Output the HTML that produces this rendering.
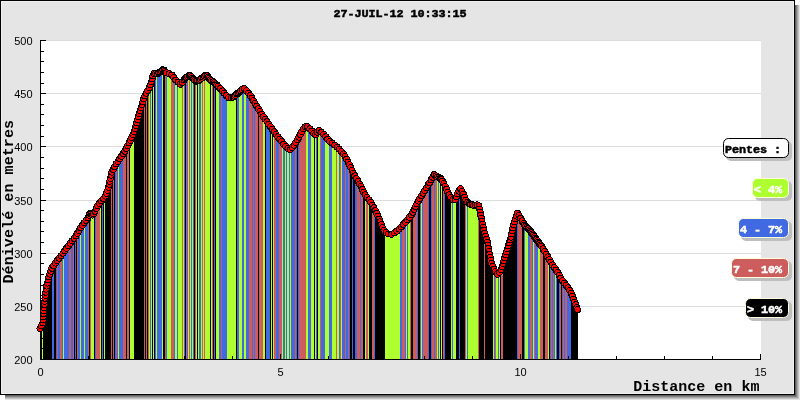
<!DOCTYPE html>
<html><head><meta charset="utf-8"><title>27-JUIL-12 10:33:15</title>
<style>
html,body{margin:0;padding:0;background:#fff;}
svg{display:block;}
.m{font-family:"Liberation Mono","DejaVu Sans Mono",monospace;font-weight:bold;}
.s{font-family:"Liberation Sans","DejaVu Sans",sans-serif;}
</style></head><body>
<svg width="800" height="400" viewBox="0 0 800 400">
<defs>
<clipPath id="cp"><polygon points="40,359 40.00,328.50 43.10,322.50 43.70,310.00 45.00,297.50 46.30,288.00 48.75,277.50 51.90,268.00 56.90,261.00 61.25,255.60 66.25,248.75 71.00,242.20 76.25,235.60 80.60,228.00 85.60,220.60 88.30,217.60 89.60,213.80 91.00,213.40 92.20,215.20 93.75,213.75 97.50,206.00 101.90,200.00 105.00,197.00 107.90,190.00 109.90,181.00 111.50,173.00 115.00,165.60 119.80,158.75 124.00,152.70 127.80,145.60 131.60,138.00 134.75,130.00 137.25,121.00 139.10,113.75 141.30,107.00 144.30,97.50 146.70,92.00 149.25,87.75 151.80,81.00 153.50,73.50 157.60,73.90 163.25,69.40 166.25,72.75 171.50,74.60 175.25,79.50 180.50,84.50 185.00,78.75 189.50,74.80 192.50,78.00 195.50,81.50 199.25,80.25 201.00,78.75 206.30,74.80 210.00,79.40 215.60,83.75 220.60,88.75 225.00,94.40 229.40,98.30 233.75,97.00 238.00,93.00 243.80,88.00 248.00,92.50 252.50,98.75 256.25,105.50 259.40,110.50 262.60,115.60 267.80,123.00 273.30,130.60 278.80,138.00 284.40,145.00 289.50,150.30 294.00,145.50 298.75,137.50 302.50,130.00 306.25,125.60 310.60,129.40 315.30,135.40 318.75,130.00 323.75,134.40 329.00,141.00 335.50,145.60 342.60,152.50 347.00,160.00 350.80,167.50 353.80,174.40 358.10,181.25 361.50,187.50 364.40,193.75 370.00,201.25 375.60,211.00 378.75,218.00 381.25,224.50 383.50,230.00 387.00,233.75 391.25,234.40 396.00,232.00 400.60,227.80 406.50,221.00 411.80,214.20 415.30,207.00 419.20,199.40 424.00,191.80 429.00,183.50 432.50,177.50 434.60,174.00 436.80,176.80 440.50,178.00 444.40,184.40 448.00,192.50 451.25,198.75 455.00,200.50 458.00,192.50 460.60,188.75 463.75,195.00 466.25,201.25 470.00,204.00 473.75,205.50 478.75,204.60 480.00,211.00 482.00,221.25 483.75,230.00 486.25,237.50 487.80,243.75 489.40,253.75 491.25,262.50 494.40,270.00 497.50,274.40 500.60,271.25 503.00,263.75 505.60,255.00 508.20,246.00 511.00,237.00 513.00,227.50 515.00,220.00 517.50,213.00 521.25,219.40 525.00,225.60 530.00,230.60 535.00,237.50 537.50,241.00 542.00,247.00 547.50,256.25 552.50,265.00 557.50,272.00 560.00,277.00 563.00,281.25 568.00,287.50 571.25,293.00 573.75,300.00 577.50,309.50 578,309.50 578,359"/></clipPath>
</defs>
<g shape-rendering="crispEdges">
<rect x="795" y="5" width="1" height="391" fill="#606060"/><rect x="5" y="395" width="791" height="1" fill="#606060"/>
<rect x="796" y="5" width="1" height="392" fill="#828282"/><rect x="5" y="396" width="792" height="1" fill="#828282"/>
<rect x="797" y="5" width="1" height="393" fill="#a3a3a3"/><rect x="5" y="397" width="793" height="1" fill="#a3a3a3"/>
<rect x="798" y="5" width="1" height="394" fill="#c4c4c4"/><rect x="5" y="398" width="794" height="1" fill="#c4c4c4"/>
<rect x="799" y="5" width="1" height="395" fill="#e2e2e2"/><rect x="5" y="399" width="795" height="1" fill="#e2e2e2"/>
<rect x="0" y="0" width="795" height="395" fill="#000"/>
<rect x="1" y="1" width="793" height="393" fill="#f0f0f0"/>
<rect x="2" y="2" width="791" height="391" fill="#e5e5e5"/>
<rect x="40" y="40" width="721" height="320" fill="#fff"/>
<rect x="41" y="40" width="720" height="1" fill="#dcdcdc"/>
<rect x="41" y="93" width="720" height="1" fill="#dcdcdc"/>
<rect x="41" y="146" width="720" height="1" fill="#dcdcdc"/>
<rect x="41" y="200" width="720" height="1" fill="#dcdcdc"/>
<rect x="41" y="253" width="720" height="1" fill="#dcdcdc"/>
<rect x="41" y="306" width="720" height="1" fill="#dcdcdc"/>
<g clip-path="url(#cp)">
<rect x="41" y="60" width="1" height="300" fill="#000000"/><rect x="42" y="60" width="1" height="300" fill="#adff2f"/><rect x="43" y="60" width="9" height="300" fill="#000000"/><rect x="52" y="60" width="2" height="300" fill="#4169e1"/><rect x="54" y="60" width="2" height="300" fill="#000000"/><rect x="56" y="60" width="1" height="300" fill="#4169e1"/><rect x="57" y="60" width="1" height="300" fill="#cd5c5c"/><rect x="58" y="60" width="2" height="300" fill="#4169e1"/><rect x="60" y="60" width="2" height="300" fill="#cd5c5c"/><rect x="62" y="60" width="1" height="300" fill="#4169e1"/><rect x="63" y="60" width="1" height="300" fill="#adff2f"/><rect x="64" y="60" width="5" height="300" fill="#4169e1"/><rect x="69" y="60" width="2" height="300" fill="#cd5c5c"/><rect x="71" y="60" width="2" height="300" fill="#4169e1"/><rect x="73" y="60" width="1" height="300" fill="#cd5c5c"/><rect x="74" y="60" width="1" height="300" fill="#000000"/><rect x="75" y="60" width="1" height="300" fill="#4169e1"/><rect x="76" y="60" width="1" height="300" fill="#000000"/><rect x="77" y="60" width="1" height="300" fill="#cd5c5c"/><rect x="78" y="60" width="2" height="300" fill="#4169e1"/><rect x="80" y="60" width="1" height="300" fill="#adff2f"/><rect x="81" y="60" width="3" height="300" fill="#4169e1"/><rect x="84" y="60" width="1" height="300" fill="#adff2f"/><rect x="85" y="60" width="3" height="300" fill="#4169e1"/><rect x="88" y="60" width="1" height="300" fill="#cd5c5c"/><rect x="89" y="60" width="1" height="300" fill="#000000"/><rect x="90" y="60" width="1" height="300" fill="#cd5c5c"/><rect x="91" y="60" width="3" height="300" fill="#adff2f"/><rect x="94" y="60" width="1" height="300" fill="#000000"/><rect x="95" y="60" width="1" height="300" fill="#4169e1"/><rect x="96" y="60" width="4" height="300" fill="#cd5c5c"/><rect x="100" y="60" width="1" height="300" fill="#adff2f"/><rect x="101" y="60" width="1" height="300" fill="#000000"/><rect x="102" y="60" width="1" height="300" fill="#4169e1"/><rect x="103" y="60" width="1" height="300" fill="#000000"/><rect x="104" y="60" width="1" height="300" fill="#adff2f"/><rect x="105" y="60" width="6" height="300" fill="#000000"/><rect x="111" y="60" width="1" height="300" fill="#cd5c5c"/><rect x="112" y="60" width="1" height="300" fill="#000000"/><rect x="113" y="60" width="1" height="300" fill="#cd5c5c"/><rect x="114" y="60" width="1" height="300" fill="#000000"/><rect x="115" y="60" width="1" height="300" fill="#4169e1"/><rect x="116" y="60" width="1" height="300" fill="#cd5c5c"/><rect x="117" y="60" width="1" height="300" fill="#4169e1"/><rect x="118" y="60" width="1" height="300" fill="#adff2f"/><rect x="119" y="60" width="4" height="300" fill="#4169e1"/><rect x="123" y="60" width="3" height="300" fill="#cd5c5c"/><rect x="126" y="60" width="1" height="300" fill="#000000"/><rect x="127" y="60" width="2" height="300" fill="#cd5c5c"/><rect x="129" y="60" width="1" height="300" fill="#000000"/><rect x="130" y="60" width="4" height="300" fill="#adff2f"/><rect x="134" y="60" width="10" height="300" fill="#000000"/><rect x="144" y="60" width="1" height="300" fill="#cd5c5c"/><rect x="145" y="60" width="1" height="300" fill="#000000"/><rect x="146" y="60" width="1" height="300" fill="#cd5c5c"/><rect x="147" y="60" width="1" height="300" fill="#000000"/><rect x="148" y="60" width="1" height="300" fill="#cd5c5c"/><rect x="149" y="60" width="1" height="300" fill="#adff2f"/><rect x="150" y="60" width="1" height="300" fill="#4169e1"/><rect x="151" y="60" width="1" height="300" fill="#adff2f"/><rect x="152" y="60" width="1" height="300" fill="#000000"/><rect x="153" y="60" width="1" height="300" fill="#adff2f"/><rect x="154" y="60" width="1" height="300" fill="#000000"/><rect x="155" y="60" width="1" height="300" fill="#4169e1"/><rect x="156" y="60" width="1" height="300" fill="#adff2f"/><rect x="157" y="60" width="5" height="300" fill="#4169e1"/><rect x="162" y="60" width="1" height="300" fill="#adff2f"/><rect x="163" y="60" width="2" height="300" fill="#000000"/><rect x="165" y="60" width="1" height="300" fill="#cd5c5c"/><rect x="166" y="60" width="1" height="300" fill="#4169e1"/><rect x="167" y="60" width="4" height="300" fill="#adff2f"/><rect x="171" y="60" width="3" height="300" fill="#cd5c5c"/><rect x="174" y="60" width="1" height="300" fill="#4169e1"/><rect x="175" y="60" width="2" height="300" fill="#adff2f"/><rect x="177" y="60" width="1" height="300" fill="#4169e1"/><rect x="178" y="60" width="4" height="300" fill="#adff2f"/><rect x="182" y="60" width="1" height="300" fill="#cd5c5c"/><rect x="183" y="60" width="1" height="300" fill="#adff2f"/><rect x="184" y="60" width="1" height="300" fill="#4169e1"/><rect x="185" y="60" width="1" height="300" fill="#000000"/><rect x="186" y="60" width="1" height="300" fill="#cd5c5c"/><rect x="187" y="60" width="1" height="300" fill="#4169e1"/><rect x="188" y="60" width="1" height="300" fill="#adff2f"/><rect x="189" y="60" width="1" height="300" fill="#cd5c5c"/><rect x="190" y="60" width="1" height="300" fill="#adff2f"/><rect x="191" y="60" width="1" height="300" fill="#4169e1"/><rect x="192" y="60" width="1" height="300" fill="#adff2f"/><rect x="193" y="60" width="1" height="300" fill="#4169e1"/><rect x="194" y="60" width="1" height="300" fill="#000000"/><rect x="195" y="60" width="1" height="300" fill="#cd5c5c"/><rect x="196" y="60" width="1" height="300" fill="#adff2f"/><rect x="197" y="60" width="1" height="300" fill="#000000"/><rect x="198" y="60" width="1" height="300" fill="#adff2f"/><rect x="199" y="60" width="2" height="300" fill="#4169e1"/><rect x="201" y="60" width="1" height="300" fill="#adff2f"/><rect x="202" y="60" width="1" height="300" fill="#cd5c5c"/><rect x="203" y="60" width="1" height="300" fill="#adff2f"/><rect x="204" y="60" width="1" height="300" fill="#cd5c5c"/><rect x="205" y="60" width="5" height="300" fill="#adff2f"/><rect x="210" y="60" width="1" height="300" fill="#000000"/><rect x="211" y="60" width="1" height="300" fill="#adff2f"/><rect x="212" y="60" width="1" height="300" fill="#cd5c5c"/><rect x="213" y="60" width="1" height="300" fill="#000000"/><rect x="214" y="60" width="1" height="300" fill="#4169e1"/><rect x="215" y="60" width="1" height="300" fill="#000000"/><rect x="216" y="60" width="3" height="300" fill="#adff2f"/><rect x="219" y="60" width="2" height="300" fill="#4169e1"/><rect x="221" y="60" width="1" height="300" fill="#cd5c5c"/><rect x="222" y="60" width="5" height="300" fill="#4169e1"/><rect x="227" y="60" width="9" height="300" fill="#adff2f"/><rect x="236" y="60" width="1" height="300" fill="#000000"/><rect x="237" y="60" width="2" height="300" fill="#4169e1"/><rect x="239" y="60" width="3" height="300" fill="#adff2f"/><rect x="242" y="60" width="2" height="300" fill="#4169e1"/><rect x="244" y="60" width="2" height="300" fill="#adff2f"/><rect x="246" y="60" width="3" height="300" fill="#4169e1"/><rect x="249" y="60" width="3" height="300" fill="#cd5c5c"/><rect x="252" y="60" width="1" height="300" fill="#4169e1"/><rect x="253" y="60" width="1" height="300" fill="#cd5c5c"/><rect x="254" y="60" width="1" height="300" fill="#4169e1"/><rect x="255" y="60" width="3" height="300" fill="#cd5c5c"/><rect x="258" y="60" width="1" height="300" fill="#000000"/><rect x="259" y="60" width="4" height="300" fill="#cd5c5c"/><rect x="263" y="60" width="2" height="300" fill="#adff2f"/><rect x="265" y="60" width="1" height="300" fill="#000000"/><rect x="266" y="60" width="4" height="300" fill="#4169e1"/><rect x="270" y="60" width="1" height="300" fill="#000000"/><rect x="271" y="60" width="1" height="300" fill="#adff2f"/><rect x="272" y="60" width="1" height="300" fill="#000000"/><rect x="273" y="60" width="1" height="300" fill="#adff2f"/><rect x="274" y="60" width="2" height="300" fill="#cd5c5c"/><rect x="276" y="60" width="3" height="300" fill="#4169e1"/><rect x="279" y="60" width="3" height="300" fill="#cd5c5c"/><rect x="282" y="60" width="1" height="300" fill="#adff2f"/><rect x="283" y="60" width="2" height="300" fill="#4169e1"/><rect x="285" y="60" width="1" height="300" fill="#adff2f"/><rect x="286" y="60" width="1" height="300" fill="#4169e1"/><rect x="287" y="60" width="2" height="300" fill="#adff2f"/><rect x="289" y="60" width="1" height="300" fill="#4169e1"/><rect x="290" y="60" width="1" height="300" fill="#adff2f"/><rect x="291" y="60" width="4" height="300" fill="#4169e1"/><rect x="295" y="60" width="1" height="300" fill="#cd5c5c"/><rect x="296" y="60" width="1" height="300" fill="#4169e1"/><rect x="297" y="60" width="1" height="300" fill="#000000"/><rect x="298" y="60" width="1" height="300" fill="#4169e1"/><rect x="299" y="60" width="7" height="300" fill="#cd5c5c"/><rect x="306" y="60" width="2" height="300" fill="#adff2f"/><rect x="308" y="60" width="3" height="300" fill="#4169e1"/><rect x="311" y="60" width="3" height="300" fill="#adff2f"/><rect x="314" y="60" width="1" height="300" fill="#000000"/><rect x="315" y="60" width="1" height="300" fill="#adff2f"/><rect x="316" y="60" width="1" height="300" fill="#4169e1"/><rect x="317" y="60" width="1" height="300" fill="#000000"/><rect x="318" y="60" width="2" height="300" fill="#adff2f"/><rect x="320" y="60" width="1" height="300" fill="#cd5c5c"/><rect x="321" y="60" width="4" height="300" fill="#4169e1"/><rect x="325" y="60" width="4" height="300" fill="#adff2f"/><rect x="329" y="60" width="3" height="300" fill="#4169e1"/><rect x="332" y="60" width="4" height="300" fill="#adff2f"/><rect x="336" y="60" width="1" height="300" fill="#cd5c5c"/><rect x="337" y="60" width="2" height="300" fill="#adff2f"/><rect x="339" y="60" width="1" height="300" fill="#4169e1"/><rect x="340" y="60" width="1" height="300" fill="#cd5c5c"/><rect x="341" y="60" width="1" height="300" fill="#adff2f"/><rect x="342" y="60" width="3" height="300" fill="#4169e1"/><rect x="345" y="60" width="1" height="300" fill="#cd5c5c"/><rect x="346" y="60" width="2" height="300" fill="#4169e1"/><rect x="348" y="60" width="1" height="300" fill="#cd5c5c"/><rect x="349" y="60" width="1" height="300" fill="#4169e1"/><rect x="350" y="60" width="2" height="300" fill="#000000"/><rect x="352" y="60" width="1" height="300" fill="#4169e1"/><rect x="353" y="60" width="2" height="300" fill="#000000"/><rect x="355" y="60" width="2" height="300" fill="#4169e1"/><rect x="357" y="60" width="3" height="300" fill="#cd5c5c"/><rect x="360" y="60" width="1" height="300" fill="#4169e1"/><rect x="361" y="60" width="2" height="300" fill="#cd5c5c"/><rect x="363" y="60" width="2" height="300" fill="#000000"/><rect x="365" y="60" width="1" height="300" fill="#adff2f"/><rect x="366" y="60" width="2" height="300" fill="#cd5c5c"/><rect x="368" y="60" width="1" height="300" fill="#adff2f"/><rect x="369" y="60" width="3" height="300" fill="#000000"/><rect x="372" y="60" width="2" height="300" fill="#cd5c5c"/><rect x="374" y="60" width="1" height="300" fill="#4169e1"/><rect x="375" y="60" width="10" height="300" fill="#000000"/><rect x="385" y="60" width="15" height="300" fill="#adff2f"/><rect x="400" y="60" width="2" height="300" fill="#4169e1"/><rect x="402" y="60" width="3" height="300" fill="#cd5c5c"/><rect x="405" y="60" width="1" height="300" fill="#4169e1"/><rect x="406" y="60" width="1" height="300" fill="#adff2f"/><rect x="407" y="60" width="1" height="300" fill="#4169e1"/><rect x="408" y="60" width="2" height="300" fill="#adff2f"/><rect x="410" y="60" width="1" height="300" fill="#cd5c5c"/><rect x="411" y="60" width="2" height="300" fill="#000000"/><rect x="413" y="60" width="4" height="300" fill="#cd5c5c"/><rect x="417" y="60" width="1" height="300" fill="#4169e1"/><rect x="418" y="60" width="2" height="300" fill="#000000"/><rect x="420" y="60" width="1" height="300" fill="#4169e1"/><rect x="421" y="60" width="1" height="300" fill="#adff2f"/><rect x="422" y="60" width="1" height="300" fill="#4169e1"/><rect x="423" y="60" width="5" height="300" fill="#cd5c5c"/><rect x="428" y="60" width="1" height="300" fill="#4169e1"/><rect x="429" y="60" width="2" height="300" fill="#000000"/><rect x="431" y="60" width="1" height="300" fill="#4169e1"/><rect x="432" y="60" width="2" height="300" fill="#cd5c5c"/><rect x="434" y="60" width="1" height="300" fill="#4169e1"/><rect x="435" y="60" width="2" height="300" fill="#cd5c5c"/><rect x="437" y="60" width="1" height="300" fill="#adff2f"/><rect x="438" y="60" width="1" height="300" fill="#4169e1"/><rect x="439" y="60" width="1" height="300" fill="#adff2f"/><rect x="440" y="60" width="1" height="300" fill="#000000"/><rect x="441" y="60" width="1" height="300" fill="#adff2f"/><rect x="442" y="60" width="1" height="300" fill="#000000"/><rect x="443" y="60" width="1" height="300" fill="#cd5c5c"/><rect x="444" y="60" width="1" height="300" fill="#4169e1"/><rect x="445" y="60" width="6" height="300" fill="#000000"/><rect x="451" y="60" width="1" height="300" fill="#adff2f"/><rect x="452" y="60" width="1" height="300" fill="#4169e1"/><rect x="453" y="60" width="3" height="300" fill="#adff2f"/><rect x="456" y="60" width="3" height="300" fill="#000000"/><rect x="459" y="60" width="1" height="300" fill="#4169e1"/><rect x="460" y="60" width="5" height="300" fill="#000000"/><rect x="465" y="60" width="1" height="300" fill="#cd5c5c"/><rect x="466" y="60" width="1" height="300" fill="#adff2f"/><rect x="467" y="60" width="1" height="300" fill="#4169e1"/><rect x="468" y="60" width="10" height="300" fill="#adff2f"/><rect x="478" y="60" width="1" height="300" fill="#cd5c5c"/><rect x="479" y="60" width="5" height="300" fill="#000000"/><rect x="484" y="60" width="1" height="300" fill="#cd5c5c"/><rect x="485" y="60" width="8" height="300" fill="#000000"/><rect x="493" y="60" width="1" height="300" fill="#adff2f"/><rect x="494" y="60" width="1" height="300" fill="#4169e1"/><rect x="495" y="60" width="1" height="300" fill="#cd5c5c"/><rect x="496" y="60" width="2" height="300" fill="#adff2f"/><rect x="498" y="60" width="1" height="300" fill="#4169e1"/><rect x="499" y="60" width="1" height="300" fill="#adff2f"/><rect x="500" y="60" width="1" height="300" fill="#000000"/><rect x="501" y="60" width="2" height="300" fill="#cd5c5c"/><rect x="503" y="60" width="14" height="300" fill="#000000"/><rect x="517" y="60" width="1" height="300" fill="#4169e1"/><rect x="518" y="60" width="4" height="300" fill="#cd5c5c"/><rect x="522" y="60" width="2" height="300" fill="#000000"/><rect x="524" y="60" width="1" height="300" fill="#4169e1"/><rect x="525" y="60" width="3" height="300" fill="#adff2f"/><rect x="528" y="60" width="2" height="300" fill="#4169e1"/><rect x="530" y="60" width="2" height="300" fill="#cd5c5c"/><rect x="532" y="60" width="1" height="300" fill="#4169e1"/><rect x="533" y="60" width="1" height="300" fill="#adff2f"/><rect x="534" y="60" width="1" height="300" fill="#cd5c5c"/><rect x="535" y="60" width="3" height="300" fill="#4169e1"/><rect x="538" y="60" width="2" height="300" fill="#adff2f"/><rect x="540" y="60" width="3" height="300" fill="#cd5c5c"/><rect x="543" y="60" width="2" height="300" fill="#000000"/><rect x="545" y="60" width="3" height="300" fill="#cd5c5c"/><rect x="548" y="60" width="1" height="300" fill="#adff2f"/><rect x="549" y="60" width="1" height="300" fill="#000000"/><rect x="550" y="60" width="1" height="300" fill="#4169e1"/><rect x="551" y="60" width="1" height="300" fill="#cd5c5c"/><rect x="552" y="60" width="1" height="300" fill="#4169e1"/><rect x="553" y="60" width="1" height="300" fill="#cd5c5c"/><rect x="554" y="60" width="1" height="300" fill="#4169e1"/><rect x="555" y="60" width="1" height="300" fill="#adff2f"/><rect x="556" y="60" width="1" height="300" fill="#4169e1"/><rect x="557" y="60" width="2" height="300" fill="#000000"/><rect x="559" y="60" width="1" height="300" fill="#4169e1"/><rect x="560" y="60" width="1" height="300" fill="#cd5c5c"/><rect x="561" y="60" width="1" height="300" fill="#000000"/><rect x="562" y="60" width="1" height="300" fill="#4169e1"/><rect x="563" y="60" width="1" height="300" fill="#cd5c5c"/><rect x="564" y="60" width="1" height="300" fill="#4169e1"/><rect x="565" y="60" width="2" height="300" fill="#cd5c5c"/><rect x="567" y="60" width="4" height="300" fill="#4169e1"/><rect x="571" y="60" width="7" height="300" fill="#000000"/>
</g>
<rect x="40" y="40" width="1" height="320" fill="#000"/>
<rect x="40" y="359" width="721" height="1" fill="#000"/>
<rect x="41" y="359" width="5" height="1" fill="#000"/><rect x="41" y="348" width="3" height="1" fill="#000"/><rect x="41" y="338" width="3" height="1" fill="#000"/><rect x="41" y="327" width="3" height="1" fill="#000"/><rect x="41" y="316" width="3" height="1" fill="#000"/><rect x="41" y="306" width="5" height="1" fill="#000"/><rect x="41" y="295" width="3" height="1" fill="#000"/><rect x="41" y="285" width="3" height="1" fill="#000"/><rect x="41" y="274" width="3" height="1" fill="#000"/><rect x="41" y="263" width="3" height="1" fill="#000"/><rect x="41" y="253" width="5" height="1" fill="#000"/><rect x="41" y="242" width="3" height="1" fill="#000"/><rect x="41" y="231" width="3" height="1" fill="#000"/><rect x="41" y="221" width="3" height="1" fill="#000"/><rect x="41" y="210" width="3" height="1" fill="#000"/><rect x="41" y="200" width="5" height="1" fill="#000"/><rect x="41" y="189" width="3" height="1" fill="#000"/><rect x="41" y="178" width="3" height="1" fill="#000"/><rect x="41" y="168" width="3" height="1" fill="#000"/><rect x="41" y="157" width="3" height="1" fill="#000"/><rect x="41" y="146" width="5" height="1" fill="#000"/><rect x="41" y="136" width="3" height="1" fill="#000"/><rect x="41" y="125" width="3" height="1" fill="#000"/><rect x="41" y="114" width="3" height="1" fill="#000"/><rect x="41" y="104" width="3" height="1" fill="#000"/><rect x="41" y="93" width="5" height="1" fill="#000"/><rect x="41" y="83" width="3" height="1" fill="#000"/><rect x="41" y="72" width="3" height="1" fill="#000"/><rect x="41" y="61" width="3" height="1" fill="#000"/><rect x="41" y="51" width="3" height="1" fill="#000"/><rect x="41" y="40" width="5" height="1" fill="#000"/>
<rect x="40" y="354" width="1" height="5" fill="#000"/><rect x="88" y="356" width="1" height="3" fill="#000"/><rect x="136" y="356" width="1" height="3" fill="#000"/><rect x="184" y="356" width="1" height="3" fill="#000"/><rect x="232" y="356" width="1" height="3" fill="#000"/><rect x="280" y="354" width="1" height="5" fill="#000"/><rect x="328" y="356" width="1" height="3" fill="#000"/><rect x="376" y="356" width="1" height="3" fill="#000"/><rect x="424" y="356" width="1" height="3" fill="#000"/><rect x="472" y="356" width="1" height="3" fill="#000"/><rect x="520" y="354" width="1" height="5" fill="#000"/><rect x="568" y="356" width="1" height="3" fill="#000"/><rect x="616" y="356" width="1" height="3" fill="#000"/><rect x="664" y="356" width="1" height="3" fill="#000"/><rect x="712" y="356" width="1" height="3" fill="#000"/><rect x="760" y="354" width="1" height="5" fill="#000"/>
</g>
<g fill="#ff0000" stroke="#000" stroke-width="1" shape-rendering="crispEdges">
<circle cx="40.0" cy="328.5" r="3"/><circle cx="41.4" cy="325.7" r="3"/><circle cx="42.8" cy="323.0" r="3"/><circle cx="43.2" cy="320.0" r="3"/><circle cx="43.4" cy="316.9" r="3"/><circle cx="43.5" cy="313.8" r="3"/><circle cx="43.7" cy="310.7" r="3"/><circle cx="44.0" cy="307.6" r="3"/><circle cx="44.3" cy="304.5" r="3"/><circle cx="44.6" cy="301.4" r="3"/><circle cx="44.9" cy="298.3" r="3"/><circle cx="45.3" cy="295.3" r="3"/><circle cx="45.7" cy="292.2" r="3"/><circle cx="46.1" cy="289.1" r="3"/><circle cx="46.7" cy="286.1" r="3"/><circle cx="47.5" cy="283.1" r="3"/><circle cx="48.2" cy="280.0" r="3"/><circle cx="48.9" cy="277.0" r="3"/><circle cx="49.9" cy="274.1" r="3"/><circle cx="50.9" cy="271.1" r="3"/><circle cx="51.8" cy="268.2" r="3"/><circle cx="53.6" cy="265.7" r="3"/><circle cx="55.4" cy="263.1" r="3"/><circle cx="57.2" cy="260.6" r="3"/><circle cx="59.1" cy="258.2" r="3"/><circle cx="61.1" cy="255.8" r="3"/><circle cx="62.9" cy="253.3" r="3"/><circle cx="64.8" cy="250.8" r="3"/><circle cx="66.6" cy="248.3" r="3"/><circle cx="68.4" cy="245.8" r="3"/><circle cx="70.2" cy="243.3" r="3"/><circle cx="72.1" cy="240.8" r="3"/><circle cx="74.0" cy="238.4" r="3"/><circle cx="76.0" cy="236.0" r="3"/><circle cx="77.6" cy="233.3" r="3"/><circle cx="79.1" cy="230.6" r="3"/><circle cx="80.6" cy="227.9" r="3"/><circle cx="82.4" cy="225.4" r="3"/><circle cx="84.1" cy="222.8" r="3"/><circle cx="85.9" cy="220.3" r="3"/><circle cx="88.0" cy="218.0" r="3"/><circle cx="89.1" cy="215.1" r="3"/><circle cx="89.9" cy="213.7" r="3"/><circle cx="91.3" cy="213.9" r="3"/><circle cx="92.3" cy="215.1" r="3"/><circle cx="93.5" cy="214.0" r="3"/><circle cx="95.0" cy="211.3" r="3"/><circle cx="96.3" cy="208.5" r="3"/><circle cx="97.7" cy="205.7" r="3"/><circle cx="99.5" cy="203.2" r="3"/><circle cx="101.4" cy="200.7" r="3"/><circle cx="103.5" cy="198.5" r="3"/><circle cx="105.4" cy="196.1" r="3"/><circle cx="106.6" cy="193.2" r="3"/><circle cx="107.8" cy="190.4" r="3"/><circle cx="108.5" cy="187.3" r="3"/><circle cx="109.2" cy="184.3" r="3"/><circle cx="109.8" cy="181.3" r="3"/><circle cx="110.4" cy="178.3" r="3"/><circle cx="111.1" cy="175.2" r="3"/><circle cx="111.9" cy="172.2" r="3"/><circle cx="113.2" cy="169.4" r="3"/><circle cx="114.5" cy="166.6" r="3"/><circle cx="116.1" cy="164.0" r="3"/><circle cx="117.9" cy="161.5" r="3"/><circle cx="119.7" cy="158.9" r="3"/><circle cx="121.4" cy="156.4" r="3"/><circle cx="123.2" cy="153.8" r="3"/><circle cx="124.8" cy="151.2" r="3"/><circle cx="126.3" cy="148.4" r="3"/><circle cx="127.7" cy="145.7" r="3"/><circle cx="129.1" cy="142.9" r="3"/><circle cx="130.5" cy="140.2" r="3"/><circle cx="131.8" cy="137.4" r="3"/><circle cx="133.0" cy="134.5" r="3"/><circle cx="134.1" cy="131.6" r="3"/><circle cx="135.1" cy="128.7" r="3"/><circle cx="135.9" cy="125.7" r="3"/><circle cx="136.8" cy="122.7" r="3"/><circle cx="137.6" cy="119.7" r="3"/><circle cx="138.3" cy="116.7" r="3"/><circle cx="139.1" cy="113.7" r="3"/><circle cx="140.1" cy="110.7" r="3"/><circle cx="141.0" cy="107.8" r="3"/><circle cx="142.0" cy="104.8" r="3"/><circle cx="142.9" cy="101.9" r="3"/><circle cx="143.8" cy="98.9" r="3"/><circle cx="144.9" cy="96.0" r="3"/><circle cx="146.2" cy="93.2" r="3"/><circle cx="147.6" cy="90.5" r="3"/><circle cx="149.2" cy="87.8" r="3"/><circle cx="150.3" cy="84.9" r="3"/><circle cx="151.4" cy="82.0" r="3"/><circle cx="152.2" cy="79.0" r="3"/><circle cx="152.9" cy="76.0" r="3"/><circle cx="154.0" cy="73.6" r="3"/><circle cx="155.7" cy="73.7" r="3"/><circle cx="157.4" cy="73.9" r="3"/><circle cx="158.8" cy="73.0" r="3"/><circle cx="160.1" cy="71.9" r="3"/><circle cx="161.4" cy="70.8" r="3"/><circle cx="162.8" cy="69.8" r="3"/><circle cx="164.0" cy="70.2" r="3"/><circle cx="165.1" cy="71.5" r="3"/><circle cx="166.2" cy="72.7" r="3"/><circle cx="169.2" cy="73.8" r="3"/><circle cx="171.9" cy="75.1" r="3"/><circle cx="173.8" cy="77.6" r="3"/><circle cx="175.7" cy="80.0" r="3"/><circle cx="178.0" cy="82.1" r="3"/><circle cx="180.2" cy="84.2" r="3"/><circle cx="182.2" cy="82.4" r="3"/><circle cx="184.1" cy="79.9" r="3"/><circle cx="185.2" cy="78.6" r="3"/><circle cx="186.4" cy="77.5" r="3"/><circle cx="187.7" cy="76.4" r="3"/><circle cx="189.0" cy="75.3" r="3"/><circle cx="190.2" cy="75.5" r="3"/><circle cx="191.4" cy="76.8" r="3"/><circle cx="192.5" cy="78.0" r="3"/><circle cx="193.6" cy="79.3" r="3"/><circle cx="194.7" cy="80.6" r="3"/><circle cx="196.0" cy="81.3" r="3"/><circle cx="197.6" cy="80.8" r="3"/><circle cx="199.2" cy="80.3" r="3"/><circle cx="200.5" cy="79.2" r="3"/><circle cx="201.9" cy="78.1" r="3"/><circle cx="203.2" cy="77.1" r="3"/><circle cx="204.6" cy="76.1" r="3"/><circle cx="205.9" cy="75.1" r="3"/><circle cx="207.1" cy="75.8" r="3"/><circle cx="208.2" cy="77.1" r="3"/><circle cx="209.2" cy="78.4" r="3"/><circle cx="210.4" cy="79.7" r="3"/><circle cx="211.7" cy="80.7" r="3"/><circle cx="213.0" cy="81.8" r="3"/><circle cx="214.4" cy="82.8" r="3"/><circle cx="215.7" cy="83.9" r="3"/><circle cx="216.9" cy="85.1" r="3"/><circle cx="218.1" cy="86.3" r="3"/><circle cx="220.3" cy="88.5" r="3"/><circle cx="222.3" cy="90.9" r="3"/><circle cx="224.2" cy="93.3" r="3"/><circle cx="226.3" cy="95.5" r="3"/><circle cx="228.6" cy="97.6" r="3"/><circle cx="231.4" cy="97.7" r="3"/><circle cx="233.0" cy="97.2" r="3"/><circle cx="234.4" cy="96.4" r="3"/><circle cx="235.6" cy="95.2" r="3"/><circle cx="236.9" cy="94.0" r="3"/><circle cx="238.1" cy="92.9" r="3"/><circle cx="239.4" cy="91.8" r="3"/><circle cx="240.7" cy="90.7" r="3"/><circle cx="242.0" cy="89.6" r="3"/><circle cx="244.3" cy="88.5" r="3"/><circle cx="246.4" cy="90.8" r="3"/><circle cx="248.4" cy="93.1" r="3"/><circle cx="250.3" cy="95.6" r="3"/><circle cx="252.1" cy="98.1" r="3"/><circle cx="253.6" cy="100.8" r="3"/><circle cx="255.1" cy="103.5" r="3"/><circle cx="256.7" cy="106.2" r="3"/><circle cx="258.3" cy="108.8" r="3"/><circle cx="260.0" cy="111.5" r="3"/><circle cx="261.6" cy="114.1" r="3"/><circle cx="263.3" cy="116.7" r="3"/><circle cx="265.1" cy="119.2" r="3"/><circle cx="266.9" cy="121.7" r="3"/><circle cx="268.7" cy="124.3" r="3"/><circle cx="270.5" cy="126.8" r="3"/><circle cx="272.3" cy="129.3" r="3"/><circle cx="274.2" cy="131.8" r="3"/><circle cx="276.0" cy="134.3" r="3"/><circle cx="277.9" cy="136.8" r="3"/><circle cx="279.8" cy="139.2" r="3"/><circle cx="281.7" cy="141.6" r="3"/><circle cx="283.6" cy="144.1" r="3"/><circle cx="285.7" cy="146.4" r="3"/><circle cx="287.9" cy="148.6" r="3"/><circle cx="290.0" cy="149.8" r="3"/><circle cx="292.1" cy="147.5" r="3"/><circle cx="294.2" cy="145.2" r="3"/><circle cx="295.8" cy="142.5" r="3"/><circle cx="297.3" cy="139.9" r="3"/><circle cx="298.9" cy="137.2" r="3"/><circle cx="300.3" cy="134.4" r="3"/><circle cx="301.7" cy="131.6" r="3"/><circle cx="303.3" cy="129.0" r="3"/><circle cx="305.3" cy="126.7" r="3"/><circle cx="307.5" cy="126.7" r="3"/><circle cx="309.9" cy="128.8" r="3"/><circle cx="311.9" cy="131.1" r="3"/><circle cx="313.8" cy="133.5" r="3"/><circle cx="315.7" cy="134.8" r="3"/><circle cx="317.3" cy="132.2" r="3"/><circle cx="319.1" cy="130.3" r="3"/><circle cx="321.4" cy="132.4" r="3"/><circle cx="323.8" cy="134.4" r="3"/><circle cx="325.7" cy="136.8" r="3"/><circle cx="327.6" cy="139.3" r="3"/><circle cx="329.7" cy="141.5" r="3"/><circle cx="332.3" cy="143.3" r="3"/><circle cx="334.8" cy="145.1" r="3"/><circle cx="337.1" cy="147.2" r="3"/><circle cx="339.3" cy="149.3" r="3"/><circle cx="341.5" cy="151.5" r="3"/><circle cx="343.4" cy="153.9" r="3"/><circle cx="345.0" cy="156.6" r="3"/><circle cx="346.6" cy="159.2" r="3"/><circle cx="348.0" cy="162.0" r="3"/><circle cx="349.4" cy="164.8" r="3"/><circle cx="350.8" cy="167.5" r="3"/><circle cx="352.0" cy="170.4" r="3"/><circle cx="353.3" cy="173.2" r="3"/><circle cx="354.8" cy="175.9" r="3"/><circle cx="356.4" cy="178.5" r="3"/><circle cx="358.1" cy="181.2" r="3"/><circle cx="359.5" cy="183.9" r="3"/><circle cx="361.0" cy="186.6" r="3"/><circle cx="362.4" cy="189.4" r="3"/><circle cx="363.7" cy="192.2" r="3"/><circle cx="365.2" cy="194.9" r="3"/><circle cx="367.1" cy="197.4" r="3"/><circle cx="369.0" cy="199.8" r="3"/><circle cx="370.7" cy="202.4" r="3"/><circle cx="372.2" cy="205.1" r="3"/><circle cx="373.8" cy="207.8" r="3"/><circle cx="375.3" cy="210.5" r="3"/><circle cx="376.6" cy="213.3" r="3"/><circle cx="377.9" cy="216.1" r="3"/><circle cx="379.1" cy="219.0" r="3"/><circle cx="380.2" cy="221.9" r="3"/><circle cx="381.3" cy="224.7" r="3"/><circle cx="382.5" cy="227.6" r="3"/><circle cx="383.9" cy="230.4" r="3"/><circle cx="386.0" cy="232.6" r="3"/><circle cx="388.6" cy="234.0" r="3"/><circle cx="391.6" cy="234.2" r="3"/><circle cx="394.4" cy="232.8" r="3"/><circle cx="396.9" cy="231.1" r="3"/><circle cx="399.2" cy="229.1" r="3"/><circle cx="401.4" cy="226.9" r="3"/><circle cx="403.4" cy="224.5" r="3"/><circle cx="405.5" cy="222.2" r="3"/><circle cx="407.4" cy="219.8" r="3"/><circle cx="409.3" cy="217.3" r="3"/><circle cx="411.3" cy="214.9" r="3"/><circle cx="412.8" cy="212.2" r="3"/><circle cx="414.1" cy="209.4" r="3"/><circle cx="415.5" cy="206.6" r="3"/><circle cx="416.9" cy="203.9" r="3"/><circle cx="418.3" cy="201.1" r="3"/><circle cx="419.8" cy="198.4" r="3"/><circle cx="421.5" cy="195.8" r="3"/><circle cx="423.1" cy="193.2" r="3"/><circle cx="424.8" cy="190.5" r="3"/><circle cx="426.4" cy="187.9" r="3"/><circle cx="428.0" cy="185.2" r="3"/><circle cx="429.5" cy="182.6" r="3"/><circle cx="431.1" cy="179.9" r="3"/><circle cx="432.7" cy="177.2" r="3"/><circle cx="434.3" cy="174.5" r="3"/><circle cx="436.1" cy="175.9" r="3"/><circle cx="437.4" cy="177.0" r="3"/><circle cx="439.0" cy="177.5" r="3"/><circle cx="440.6" cy="178.1" r="3"/><circle cx="441.4" cy="179.5" r="3"/><circle cx="442.3" cy="181.0" r="3"/><circle cx="443.9" cy="183.6" r="3"/><circle cx="445.3" cy="186.4" r="3"/><circle cx="446.6" cy="189.3" r="3"/><circle cx="447.8" cy="192.1" r="3"/><circle cx="449.2" cy="194.9" r="3"/><circle cx="450.7" cy="197.6" r="3"/><circle cx="452.9" cy="199.5" r="3"/><circle cx="455.3" cy="199.8" r="3"/><circle cx="456.4" cy="196.9" r="3"/><circle cx="457.4" cy="194.0" r="3"/><circle cx="458.9" cy="191.2" r="3"/><circle cx="460.6" cy="188.8" r="3"/><circle cx="462.0" cy="191.6" r="3"/><circle cx="463.4" cy="194.3" r="3"/><circle cx="464.6" cy="197.2" r="3"/><circle cx="465.8" cy="200.1" r="3"/><circle cx="467.7" cy="202.3" r="3"/><circle cx="469.1" cy="203.3" r="3"/><circle cx="470.5" cy="204.2" r="3"/><circle cx="472.1" cy="204.8" r="3"/><circle cx="473.7" cy="205.5" r="3"/><circle cx="475.4" cy="205.2" r="3"/><circle cx="477.0" cy="204.9" r="3"/><circle cx="479.0" cy="205.9" r="3"/><circle cx="479.6" cy="209.0" r="3"/><circle cx="480.2" cy="212.0" r="3"/><circle cx="480.8" cy="215.1" r="3"/><circle cx="481.4" cy="218.1" r="3"/><circle cx="482.0" cy="221.1" r="3"/><circle cx="482.6" cy="224.2" r="3"/><circle cx="483.2" cy="227.2" r="3"/><circle cx="483.8" cy="230.3" r="3"/><circle cx="484.8" cy="233.2" r="3"/><circle cx="485.8" cy="236.1" r="3"/><circle cx="486.7" cy="239.1" r="3"/><circle cx="487.4" cy="242.1" r="3"/><circle cx="488.0" cy="245.2" r="3"/><circle cx="488.5" cy="248.2" r="3"/><circle cx="489.0" cy="251.3" r="3"/><circle cx="489.5" cy="254.3" r="3"/><circle cx="490.2" cy="257.4" r="3"/><circle cx="490.8" cy="260.4" r="3"/><circle cx="491.6" cy="263.4" r="3"/><circle cx="492.8" cy="266.2" r="3"/><circle cx="494.0" cy="269.1" r="3"/><circle cx="495.6" cy="271.7" r="3"/><circle cx="497.4" cy="274.3" r="3"/><circle cx="499.6" cy="272.3" r="3"/><circle cx="501.1" cy="269.7" r="3"/><circle cx="502.0" cy="266.8" r="3"/><circle cx="503.0" cy="263.8" r="3"/><circle cx="503.9" cy="260.8" r="3"/><circle cx="504.8" cy="257.9" r="3"/><circle cx="505.6" cy="254.9" r="3"/><circle cx="506.5" cy="251.9" r="3"/><circle cx="507.4" cy="248.9" r="3"/><circle cx="508.2" cy="246.0" r="3"/><circle cx="509.1" cy="243.0" r="3"/><circle cx="510.1" cy="240.0" r="3"/><circle cx="511.0" cy="237.1" r="3"/><circle cx="511.6" cy="234.0" r="3"/><circle cx="512.3" cy="231.0" r="3"/><circle cx="512.9" cy="228.0" r="3"/><circle cx="513.7" cy="225.0" r="3"/><circle cx="514.5" cy="222.0" r="3"/><circle cx="515.4" cy="219.0" r="3"/><circle cx="516.4" cy="216.1" r="3"/><circle cx="517.4" cy="213.2" r="3"/><circle cx="519.0" cy="215.5" r="3"/><circle cx="520.5" cy="218.2" r="3"/><circle cx="522.1" cy="220.9" r="3"/><circle cx="523.7" cy="223.5" r="3"/><circle cx="524.6" cy="225.0" r="3"/><circle cx="525.7" cy="226.3" r="3"/><circle cx="526.9" cy="227.5" r="3"/><circle cx="528.1" cy="228.7" r="3"/><circle cx="529.3" cy="229.9" r="3"/><circle cx="530.4" cy="231.2" r="3"/><circle cx="531.4" cy="232.5" r="3"/><circle cx="532.4" cy="233.9" r="3"/><circle cx="533.4" cy="235.3" r="3"/><circle cx="534.4" cy="236.7" r="3"/><circle cx="535.4" cy="238.0" r="3"/><circle cx="536.4" cy="239.4" r="3"/><circle cx="537.4" cy="240.8" r="3"/><circle cx="538.4" cy="242.2" r="3"/><circle cx="539.4" cy="243.5" r="3"/><circle cx="540.4" cy="244.9" r="3"/><circle cx="541.4" cy="246.3" r="3"/><circle cx="543.1" cy="248.9" r="3"/><circle cx="544.7" cy="251.5" r="3"/><circle cx="546.3" cy="254.2" r="3"/><circle cx="547.8" cy="256.9" r="3"/><circle cx="549.4" cy="259.6" r="3"/><circle cx="550.9" cy="262.2" r="3"/><circle cx="552.5" cy="264.9" r="3"/><circle cx="554.3" cy="267.5" r="3"/><circle cx="556.1" cy="270.0" r="3"/><circle cx="557.8" cy="272.6" r="3"/><circle cx="559.2" cy="275.3" r="3"/><circle cx="560.7" cy="278.0" r="3"/><circle cx="562.5" cy="280.5" r="3"/><circle cx="564.4" cy="283.0" r="3"/><circle cx="566.3" cy="285.4" r="3"/><circle cx="568.2" cy="287.9" r="3"/><circle cx="569.8" cy="290.5" r="3"/><circle cx="571.3" cy="293.2" r="3"/><circle cx="572.4" cy="296.1" r="3"/><circle cx="573.4" cy="299.1" r="3"/><circle cx="574.5" cy="302.0" r="3"/><circle cx="575.7" cy="304.8" r="3"/><circle cx="576.8" cy="307.7" r="3"/><circle cx="577.5" cy="309.5" r="3"/>
</g>
<g class="s" font-size="11" fill="#000">
<text x="32.6" y="364.0" text-anchor="end">200</text><text x="32.6" y="310.8" text-anchor="end">250</text><text x="32.6" y="257.7" text-anchor="end">300</text><text x="32.6" y="204.5" text-anchor="end">350</text><text x="32.6" y="151.3" text-anchor="end">400</text><text x="32.6" y="98.2" text-anchor="end">450</text><text x="32.6" y="45.0" text-anchor="end">500</text><text x="40.5" y="376" text-anchor="middle">0</text><text x="280.5" y="376" text-anchor="middle">5</text><text x="520.5" y="376" text-anchor="middle">10</text><text x="760.5" y="376" text-anchor="middle">15</text>
</g>
<text class="m" transform="translate(333.6,17) scale(1,1)" font-size="11.8" letter-spacing="-0.08" fill="#000" stroke="#000" stroke-width="0.5">27-JUIL-12 10:33:15</text>
<text class="m" x="759.4" y="391" font-size="15" text-anchor="end" fill="#000">Distance en km</text>
<text class="m" transform="translate(13,283.5) rotate(-90)" font-size="15" letter-spacing="0.09" fill="#000">Dénivelé en metres</text>
<rect x="726" y="141" width="66" height="20" rx="5" ry="5" fill="#bebebe"/>
<rect x="723.5" y="138.5" width="65" height="19" rx="5" ry="5" fill="#fff" stroke="#000" stroke-width="1"/>
<text class="m" transform="translate(724.9,152.6) scale(1,1)" font-size="11.8" letter-spacing="-0.08" fill="#000" stroke="#000" stroke-width="0.5" xml:space="preserve">Pentes :</text>
<rect x="755" y="181" width="37" height="20" rx="5" ry="5" fill="#bebebe"/>
<rect x="752.5" y="178.5" width="36" height="19" rx="5" ry="5" fill="#adff2f" stroke="#ffffdc" stroke-width="1"/>
<text class="m" transform="translate(753.9,192.6) scale(1,1)" font-size="11.8" letter-spacing="-0.08" fill="#fff" stroke="#fff" stroke-width="0.5" xml:space="preserve">&lt; 4%</text>
<rect x="741" y="221" width="51" height="20" rx="5" ry="5" fill="#bebebe"/>
<rect x="738.5" y="218.5" width="50" height="19" rx="5" ry="5" fill="#4169e1" stroke="#ffffdc" stroke-width="1"/>
<text class="m" transform="translate(739.9,232.6) scale(1,1)" font-size="11.8" letter-spacing="-0.08" fill="#fff" stroke="#fff" stroke-width="0.5" xml:space="preserve">4 - 7%</text>
<rect x="734" y="261" width="58" height="20" rx="5" ry="5" fill="#bebebe"/>
<rect x="731.5" y="258.5" width="57" height="19" rx="5" ry="5" fill="#cd5c5c" stroke="#ffffdc" stroke-width="1"/>
<text class="m" transform="translate(732.9,272.6) scale(1,1)" font-size="11.8" letter-spacing="-0.08" fill="#fff" stroke="#fff" stroke-width="0.5" xml:space="preserve">7 - 10%</text>
<rect x="748" y="301" width="44" height="20" rx="5" ry="5" fill="#bebebe"/>
<rect x="745.5" y="298.5" width="43" height="19" rx="5" ry="5" fill="#000" stroke="#ffffdc" stroke-width="1"/>
<text class="m" transform="translate(746.9,312.6) scale(1,1)" font-size="11.8" letter-spacing="-0.08" fill="#fff" stroke="#fff" stroke-width="0.5" xml:space="preserve">&gt; 10%</text>
</svg>
</body></html>
